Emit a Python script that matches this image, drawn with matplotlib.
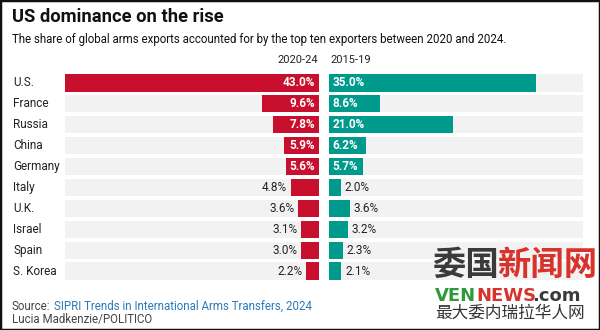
import matplotlib
matplotlib.use('Agg')
import matplotlib.pyplot as plt
from matplotlib.patches import Rectangle

plt.rcParams['font.family'] = ['Roboto', 'Noto Sans CJK SC', 'DejaVu Sans']

countries = ['U.S.', 'France', 'Russia', 'China', 'Germany',
             'Italy', 'U.K.', 'Israel', 'Spain', 'S. Korea']
share_2020_24 = [43.0, 9.6, 7.8, 5.9, 5.6, 4.8, 3.6, 3.1, 3.0, 2.2]
share_2015_19 = [35.0, 8.6, 21.0, 6.2, 5.7, 2.0, 3.6, 3.2, 2.3, 2.1]
period_labels = ['2020-24', '2015-19']

RED = '#c8102e'
TEAL = '#009a8c'
BG = '#f2f2f2'
DARK = '#222222'
XMAX = 43.0
H = 0.82

W, HT = 600, 330
fig = plt.figure(figsize=(6, 3.3), dpi=100)

def fx(px):
    return px / W

def fy(py):
    return 1 - py / HT

top, bottom = 72.5, 281.5
ax_l = fig.add_axes([fx(65), fy(bottom), fx(319 - 65), (bottom - top) / HT])
ax_r = fig.add_axes([fx(329), fy(bottom), fx(583 - 329), (bottom - top) / HT])

ypos = list(range(len(countries)))
for ax in (ax_l, ax_r):
    ax.barh(ypos, [XMAX] * len(ypos), height=H, color=BG, zorder=1)
    ax.set_ylim(len(ypos) - 0.5, -0.5)
    ax.axis('off')

ax_l.set_xlim(XMAX, 0)
ax_r.set_xlim(0, XMAX)
ax_l.barh(ypos, share_2020_24, height=H, color=RED, zorder=2)
ax_r.barh(ypos, share_2015_19, height=H, color=TEAL, zorder=2)

pad = 0.6
for i, v in enumerate(share_2020_24):
    if v >= 5.5:
        ax_l.text(pad, i, f'{v:.1f}%', ha='right', va='center', color='white',
                  fontsize=8.5, fontweight='bold', zorder=3)
    else:
        ax_l.text(v + pad, i, f'{v:.1f}%', ha='right', va='center', color=DARK,
                  fontsize=8.5, zorder=3)
for i, v in enumerate(share_2015_19):
    if v >= 5.5:
        ax_r.text(pad, i, f'{v:.1f}%', ha='left', va='center', color='white',
                  fontsize=8.5, fontweight='bold', zorder=3)
    else:
        ax_r.text(v + pad, i, f'{v:.1f}%', ha='left', va='center', color=DARK,
                  fontsize=8.5, zorder=3)

for i, c in enumerate(countries):
    fig.text(fx(13), fy(83 + 20.9 * i), c, ha='left', va='center',
             fontsize=8.5, color=DARK)

fig.text(fx(318), fy(60), period_labels[0], ha='right', va='center', fontsize=8, color=DARK)
fig.text(fx(330), fy(60), period_labels[1], ha='left', va='center', fontsize=8, color=DARK)

fig.text(fx(12), fy(17), 'US dominance on the rise', ha='left', va='center',
         fontsize=13.2, fontweight='bold', color='#111111')
fig.text(fx(12), fy(39), 'The share of global arms exports accounted for by the top ten '
         'exporters between 2020 and 2024.', ha='left', va='center', fontsize=8.3,
         color='#111111')

# source line, two colours
src = fig.text(fx(12), fy(306), 'Source:', ha='left', va='center', fontsize=8.3, color='#444444')
fig.canvas.draw()
bb = src.get_window_extent()
fig.text((bb.x1 + 4) / W, fy(306), 'SIPRI Trends in International Arms Transfers, 2024',
         ha='left', va='center', fontsize=8.3, color='#2a7ab9')
fig.text(fx(12), fy(320), 'Lucia Madkenzie/POLITICO', ha='left', va='center',
         fontsize=8.3, color='#444444')

# watermark
fig.text(fx(432), fy(265), '委国', ha='left', va='center', fontsize=24,
         fontweight='bold', color='#3a3a3a', family=['Noto Sans CJK SC'])
fig.text(fx(497), fy(265), '新闻网', ha='left', va='center', fontsize=24,
         fontweight='bold', color='#d8322c', family=['Noto Sans CJK SC'])
fig.text(fx(435), fy(296), 'VEN', ha='left', va='center', fontsize=13,
         fontweight='bold', color='#2e9a3a', family=['DejaVu Sans'])
fig.text(fx(476), fy(296), 'NEWS', ha='left', va='center', fontsize=13,
         fontweight='bold', color='#d8322c', family=['DejaVu Sans'])
fig.text(fx(532), fy(296), '.com', ha='left', va='center', fontsize=13,
         fontweight='bold', color='#3a3a3a', family=['DejaVu Sans'])
fig.text(fx(435), fy(313), '最大委内瑞拉华人网', ha='left', va='center', fontsize=12,
         color='#333333', family=['Noto Sans CJK SC'])

fig.patches.append(Rectangle((0, 0), 1, 1, transform=fig.transFigure, fill=False,
                             edgecolor='#111111', linewidth=2.5))

fig.savefig('out.png', dpi=100)
